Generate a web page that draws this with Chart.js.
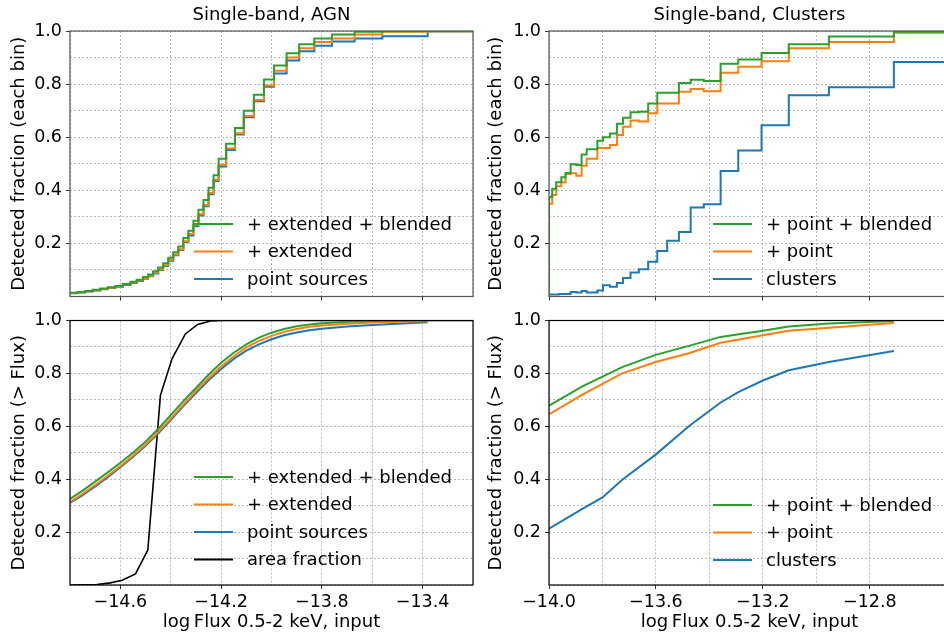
<!DOCTYPE html>
<html><head><meta charset="utf-8">
<script src="https://cdn.jsdelivr.net/npm/chart.js@4/dist/chart.umd.min.js"></script>
<style>
html,body{margin:0;padding:0;background:#fff;overflow:hidden;}
#wrap{position:relative;width:944px;height:637px;overflow:hidden;background:#fff;}
canvas{position:absolute;}
</style></head><body>
<div id="wrap">
<canvas id="tl" width="490" height="311" style="left:0;top:0"></canvas>
<canvas id="tr" width="480" height="311" style="left:480px;top:0"></canvas>
<canvas id="bl" width="490" height="331" style="left:0;top:306px"></canvas>
<canvas id="br" width="480" height="331" style="left:480px;top:306px"></canvas>
</div>
<script>
// ---------------- DATA ----------------
const titles = ["Single-band, AGN", "Single-band, Clusters"];
const xTitle = "log\u2009Flux 0.5-2 keV, input";
const yTitleTop = "Detected fraction (each bin)";
const yTitleBottom = "Detected fraction (> Flux)";
const agnLabels = ["+ extended + blended", "+ extended", "point sources", "area fraction"];
const cluLabels = ["+ point + blended", "+ point", "clusters"];

// AGN per-bin detected fraction (bin left edges, last entry = right end)
const agnEdges = [-14.80,-14.77,-14.74,-14.71,-14.68,-14.65,-14.62,-14.59,-14.56,-14.535,-14.51,-14.49,-14.47,-14.45,-14.43,-14.41,-14.39,-14.37,-14.35,-14.33,-14.31,-14.29,-14.27,-14.25,-14.23,-14.21,-14.18,-14.145,-14.11,-14.07,-14.03,-13.99,-13.94,-13.89,-13.83,-13.76,-13.67,-13.56,-13.38,-13.20];
const agnPoint    = [0.012,0.015,0.019,0.023,0.027,0.032,0.037,0.043,0.051,0.058,0.067,0.076,0.087,0.100,0.115,0.135,0.155,0.175,0.205,0.230,0.265,0.305,0.340,0.385,0.435,0.490,0.552,0.610,0.675,0.735,0.790,0.840,0.889,0.924,0.944,0.960,0.972,0.980,0.999];
const agnExtended = [0.013,0.016,0.020,0.024,0.028,0.033,0.038,0.045,0.053,0.060,0.069,0.078,0.089,0.103,0.118,0.138,0.158,0.178,0.208,0.235,0.270,0.310,0.345,0.390,0.440,0.495,0.557,0.615,0.680,0.740,0.795,0.850,0.900,0.935,0.959,0.972,0.987,0.997,0.999];
const agnBlended  = [0.014,0.017,0.021,0.025,0.030,0.035,0.040,0.047,0.056,0.063,0.073,0.083,0.095,0.109,0.125,0.146,0.167,0.188,0.220,0.248,0.285,0.327,0.363,0.410,0.457,0.519,0.575,0.635,0.700,0.760,0.817,0.870,0.916,0.950,0.972,0.987,0.997,0.999,0.999];

// Clusters per-bin detected fraction
const cluEdges = [-14.000,-13.988,-13.973,-13.963,-13.954,-13.938,-13.919,-13.898,-13.878,-13.859,-13.819,-13.798,-13.772,-13.746,-13.723,-13.695,-13.664,-13.629,-13.595,-13.558,-13.514,-13.470,-13.421,-13.358,-13.292,-13.205,-13.103,-12.953,-12.710,-12.300];
const cluClusters = [0.008,0.008,0.008,0.009,0.009,0.009,0.017,0.015,0.021,0.015,0.023,0.042,0.037,0.051,0.070,0.090,0.103,0.131,0.171,0.210,0.243,0.335,0.347,0.473,0.550,0.645,0.758,0.788,0.883];
const cluPoint    = [0.349,0.382,0.415,0.415,0.430,0.461,0.464,0.455,0.492,0.519,0.559,0.559,0.571,0.608,0.639,0.663,0.659,0.690,0.727,0.727,0.771,0.782,0.773,0.843,0.865,0.886,0.935,0.959,0.993];
const cluBlended  = [0.375,0.406,0.430,0.430,0.449,0.465,0.498,0.495,0.535,0.555,0.587,0.600,0.614,0.651,0.673,0.694,0.696,0.727,0.767,0.767,0.804,0.816,0.812,0.877,0.893,0.917,0.950,0.979,0.997];

// AGN cumulative detected fraction (> Flux)
const agnCumFlux     = [-14.80,-14.75,-14.70,-14.65,-14.60,-14.55,-14.50,-14.45,-14.40,-14.35,-14.30,-14.25,-14.20,-14.15,-14.10,-14.05,-14.00,-13.95,-13.90,-13.85,-13.80,-13.70,-13.60,-13.50,-13.38];
const agnCumPoint    = [0.310,0.340,0.373,0.408,0.445,0.484,0.526,0.573,0.624,0.676,0.726,0.774,0.817,0.855,0.886,0.910,0.929,0.944,0.955,0.963,0.969,0.977,0.983,0.988,0.993];
const agnCumExtended = [0.314,0.345,0.378,0.413,0.450,0.489,0.531,0.578,0.629,0.682,0.733,0.782,0.826,0.865,0.898,0.923,0.942,0.957,0.968,0.976,0.981,0.988,0.992,0.995,0.997];
const agnCumBlended  = [0.325,0.357,0.391,0.426,0.462,0.500,0.542,0.590,0.642,0.695,0.745,0.795,0.840,0.878,0.910,0.935,0.954,0.968,0.978,0.985,0.990,0.995,0.998,0.999,1.000];
const areaFlux = [-14.843,-14.793,-14.743,-14.693,-14.640,-14.593,-14.540,-14.491,-14.441,-14.395,-14.342,-14.293,-14.242,-14.192,-13.20];
const areaFrac = [0.000,0.000,0.0005,0.002,0.008,0.018,0.042,0.132,0.717,0.855,0.949,0.985,0.998,1.000,1.000];

// Clusters cumulative detected fraction (> Flux)
const cluCumFlux     = [-14.00,-13.875,-13.80,-13.726,-13.601,-13.477,-13.358,-13.29,-13.20,-13.103,-12.953,-12.71];
const cluCumClusters = [0.213,0.288,0.331,0.398,0.493,0.600,0.690,0.730,0.773,0.812,0.843,0.885];
const cluCumPoint    = [0.645,0.720,0.760,0.800,0.843,0.876,0.916,0.928,0.944,0.961,0.973,0.991];
const cluCumBlended  = [0.678,0.751,0.788,0.824,0.870,0.904,0.938,0.948,0.961,0.977,0.989,0.998];

// ---------------- STYLE ----------------
const C = {blue:'#1f77b4', orange:'#ff7f0e', green:'#2ca02c', black:'#000000'};
const FONT = '"DejaVu Sans", sans-serif';
const minus = s => s.replace('-', '\u2212');

function pts(xs, ys, withEnd) {
  const out = ys.map((y, i) => ({x: xs[i], y}));
  if (withEnd) out.push({x: xs[xs.length - 1], y: ys[ys.length - 1]});
  return out;
}

const deco = {
  id: 'deco',
  afterDraw(chart, args, o) {
    const {ctx, chartArea: a} = chart;
    ctx.save();
    ctx.strokeStyle = o.spine; ctx.lineWidth = 1.2;
    ctx.strokeRect(a.left, a.top, a.right - a.left, a.bottom - a.top);
    ctx.fillStyle = '#000';
    ctx.font = '18px ' + FONT;
    if (o.title) {
      ctx.textAlign = 'center'; ctx.textBaseline = 'middle';
      ctx.fillText(o.title, (a.left + a.right) / 2, o.titleY);
    }
    const L = o.legend;
    ctx.textAlign = 'left'; ctx.textBaseline = 'middle';
    L.items.forEach((it, i) => {
      const y = L.y + i * L.dy;
      ctx.strokeStyle = it.color; ctx.lineWidth = 2;
      ctx.beginPath(); ctx.moveTo(L.x, y); ctx.lineTo(L.x + 39, y); ctx.stroke();
      ctx.fillStyle = '#000';
      ctx.fillText(it.label, L.x + 53, y + 1);
    });
    ctx.restore();
  }
};

function xScale(min, max, isBottom, labelMod) {
  return {
    type: 'linear', min, max,
    afterFit: s => { s.height = isBottom ? 52 : 6; },
    ticks: {
      stepSize: 0.2, autoSkip: false, maxRotation: 0, color: '#000', padding: 3,
      font: {family: FONT, size: 17.5},
      callback: v => (isBottom && ((Math.round(v * 10) % 4 + 4) % 4 === labelMod)) ? minus(v.toFixed(1)) : ''
    },
    grid: {
      color: '#b8b8b8', lineWidth: 1, tickLength: 4, drawOnChartArea: true,
      tickColor: c => ((Math.round(c.tick.value * 10) % 4 + 4) % 4 === labelMod) ? '#333' : 'rgba(0,0,0,0)'
    },
    border: {display: false, dash: [2, 2]},
    title: isBottom ? {display: true, text: xTitle, color: '#000', font: {family: FONT, size: 18}, padding: {top: 0, bottom: 4}} : {display: false}
  };
}
function yScale(title, axisW, titlePad) {
  return {
    type: 'linear', min: 0, max: 1,
    afterFit: s => { s.width = axisW; },
    ticks: {
      stepSize: 0.1, autoSkip: false, color: '#000', padding: 4,
      font: {family: FONT, size: 17.5},
      callback: v => { const k = Math.round(v * 10); return (k > 0 && k % 2 === 0) ? (k / 10).toFixed(1) : ''; }
    },
    grid: {
      color: '#b8b8b8', lineWidth: 1, tickLength: 4,
      tickColor: c => { const k = Math.round(c.tick.value * 10); return (k > 0 && k % 2 === 0) ? '#333' : 'rgba(0,0,0,0)'; }
    },
    border: {display: false, dash: [2, 2]},
    title: {display: true, text: title, color: '#000', font: {family: FONT, size: 18}, padding: {top: titlePad, bottom: 0}}
  };
}
function ds(data, color, stepped, lw) {
  return {data, borderColor: color, backgroundColor: color, borderWidth: lw || 2, pointRadius: 0,
          stepped: stepped ? 'before' : false, tension: 0, fill: false};
}
function make(id, datasets, x, y, pad, decoOpts) {
  return new Chart(document.getElementById(id), {
    type: 'line',
    data: {datasets},
    options: {
      responsive: false, animation: false, devicePixelRatio: 1,
      layout: {padding: pad},
      scales: {x, y},
      plugins: {legend: {display: false}, tooltip: {enabled: false}, deco: decoOpts}
    },
    plugins: [deco]
  });
}

// Top-left
make('tl', [
  ds(pts(agnEdges, agnBlended, true), C.green, true),
  ds(pts(agnEdges, agnExtended, true), C.orange, true),
  ds(pts(agnEdges, agnPoint, true), C.blue, true)
], xScale(-14.8, -13.2, false, 2), yScale(yTitleTop, 70, 9), {left: 0, top: 31, right: 17, bottom: 0},
{spine: '#555', title: titles[0], titleY: 15,
 legend: {x: 194, y: 224, dy: 27.5, items: [{label: agnLabels[0], color: C.green}, {label: agnLabels[1], color: C.orange}, {label: agnLabels[2], color: C.blue}]}});

// Top-right
make('tr', [
  ds([{x: cluEdges[0], y: 0}].concat(pts(cluEdges, cluBlended, true)), C.green, true),
  ds([{x: cluEdges[0], y: 0}].concat(pts(cluEdges, cluPoint, true)), C.orange, true),
  ds([{x: cluEdges[0], y: 0}].concat(pts(cluEdges, cluClusters, true)), C.blue, true)
], xScale(-14.0, -12.5, false, 0), yScale(yTitleTop, 69, 6), {left: 0, top: 31, right: 10, bottom: 0},
{spine: '#555', title: titles[1], titleY: 15,
 legend: {x: 233, y: 224, dy: 27.5, items: [{label: cluLabels[0], color: C.green}, {label: cluLabels[1], color: C.orange}, {label: cluLabels[2], color: C.blue}]}});

// Bottom-left
make('bl', [
  ds(pts(agnCumFlux, agnCumBlended), C.green, false),
  ds(pts(agnCumFlux, agnCumExtended), C.orange, false),
  ds(pts(agnCumFlux, agnCumPoint), C.blue, false),
  ds(pts(areaFlux, areaFrac), C.black, false, 1.6)
], xScale(-14.8, -13.2, true, 2), yScale(yTitleBottom, 70, 9), {left: 0, top: 6, right: 17, bottom: 0},
{spine: '#000', legend: {x: 194, y: 171, dy: 27.5, items: [{label: agnLabels[0], color: C.green}, {label: agnLabels[1], color: C.orange}, {label: agnLabels[2], color: C.blue}, {label: agnLabels[3], color: C.black}]}});

// Bottom-right
make('br', [
  ds(pts(cluCumFlux, cluCumBlended), C.green, false),
  ds(pts(cluCumFlux, cluCumPoint), C.orange, false),
  ds(pts(cluCumFlux, cluCumClusters), C.blue, false)
], xScale(-14.0, -12.5, true, 0), yScale(yTitleBottom, 69, 6), {left: 0, top: 6, right: 10, bottom: 0},
{spine: '#000', legend: {x: 233, y: 199, dy: 27.5, items: [{label: cluLabels[0], color: C.green}, {label: cluLabels[1], color: C.orange}, {label: cluLabels[2], color: C.blue}]}});
</script>
</body></html>
